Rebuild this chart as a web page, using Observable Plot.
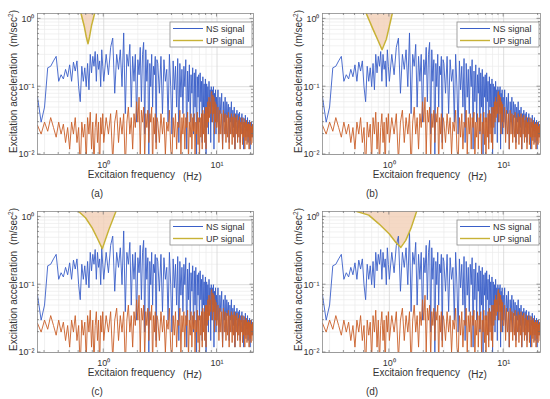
<!DOCTYPE html>
<html><head><meta charset="utf-8">
<script src="https://cdn.jsdelivr.net/npm/d3@7"></script>
<script src="https://cdn.jsdelivr.net/npm/@observablehq/plot@0.6"></script>
<style>
body{margin:0;background:#fff;}
#root{position:relative;width:550px;height:399px;overflow:hidden;background:#fff;}
#root svg{position:absolute;}
</style></head>
<body><div id="root"></div>
<script>
// ---- data ----
const freq = [
0.26,0.28,0.30,0.32,0.34,0.36,0.38,0.40,0.42,0.44,0.46,0.48,0.50,0.52,0.54,0.56,0.58,0.60,0.62,0.64,
0.66,0.68,0.70,0.72,0.74,0.76,0.78,0.80,0.82,0.84,0.86,0.88,0.90,0.92,0.94,0.96,0.98,
1.00,1.05,1.10,1.15,1.20,1.25,1.30,1.35,1.40,1.45,1.50,1.55,1.60,1.65,1.70,1.75,1.80,1.85,1.90,1.95,
2.00,2.05,2.10,2.15,2.20,2.25,2.30,2.35,2.40,2.45,2.50,2.55,2.60,2.65,2.70,2.75,2.80,2.85,2.90,2.95,
3.0,3.1,3.2,3.3,3.4,3.5,3.6,3.7,3.8,3.9,4.0,4.1,4.2,4.3,4.4,4.5,4.6,4.7,4.8,4.9,
5.0,5.1,5.2,5.3,5.4,5.5,5.6,5.7,5.8,5.9,6.0,6.1,6.2,6.3,6.4,6.5,6.6,6.7,6.8,6.9,
7.0,7.1,7.2,7.3,7.4,7.5,7.6,7.7,7.8,7.9,8.0,8.1,8.2,8.3,8.4,8.5,8.6,8.7,8.8,8.9,
9.0,9.1,9.2,9.3,9.4,9.5,9.6,9.7,9.8,9.9,
10.0,10.2,10.4,10.6,10.8,
11.0,11.2,11.4,11.6,11.8,12.0,12.2,12.4,12.6,12.8,13.0,13.2,13.4,13.6,13.8,14.0,14.2,14.4,14.6,14.8,
15.0,15.2,15.4,15.6,15.8,16.0,16.2,16.4,16.6,16.8,17.0,17.2,17.4,17.6,17.8,18.0,18.2,18.4,18.6,18.8,
19.0,19.2,19.4,19.6,19.8,20.0,20.2,20.4,20.6,20.8
];
const nsSignal = [
0.07,0.03,0.05,0.19,0.20,0.24,0.28,0.12,0.15,0.13,0.18,0.14,0.21,0.12,0.23,0.17,0.24,0.10,0.06,0.20,
0.12,0.19,0.10,0.22,0.09,0.30,0.16,0.28,0.20,0.33,0.12,0.30,0.18,0.24,0.10,0.35,0.20,
0.12,0.30,0.15,0.38,0.52,0.08,0.30,0.18,0.35,0.10,0.62,0.04,0.30,0.20,0.42,0.05,0.28,0.12,0.30,0.03,
0.25,0.15,0.38,0.06,0.30,0.45,0.02,0.35,0.12,0.25,0.008,0.22,0.10,0.30,0.05,0.20,0.15,0.28,0.015,0.25,
0.22,0.08,0.28,0.04,0.25,0.12,0.18,0.03,0.30,0.10,0.02,0.24,0.09,0.20,0.05,0.26,0.015,0.22,0.07,0.18,
0.04,0.20,0.10,0.25,0.012,0.17,0.06,0.21,0.03,0.15,0.08,0.19,0.02,0.16,0.05,0.18,0.01,0.14,0.07,0.15,
0.03,0.16,0.06,0.12,0.015,0.14,0.05,0.11,0.025,0.13,0.01,0.11,0.04,0.10,0.02,0.12,0.05,0.09,0.015,0.10,
0.03,0.09,0.05,0.10,0.012,0.08,0.04,0.09,0.02,0.07,
0.03,0.09,0.02,0.07,0.04,
0.08,0.012,0.06,0.03,0.07,0.02,0.06,0.035,0.055,0.015,0.05,0.03,0.06,0.02,0.045,0.025,0.05,0.012,0.04,0.03,
0.045,0.018,0.04,0.025,0.042,0.015,0.035,0.028,0.04,0.02,0.035,0.012,0.03,0.025,0.038,0.018,0.03,0.022,0.035,0.015,
0.03,0.024,0.032,0.012,0.028,0.02,0.03,0.018,0.027,0.022
];
const upSignal = [
0.027,0.02,0.03,0.022,0.035,0.025,0.018,0.03,0.02,0.028,0.015,0.025,0.012,0.03,0.02,0.035,0.015,0.025,0.006,0.03,
0.018,0.028,0.008,0.035,0.02,0.042,0.012,0.03,0.007,0.025,0.04,0.015,0.03,0.006,0.035,0.02,0.04,
0.015,0.035,0.02,0.04,0.008,0.03,0.045,0.015,0.035,0.02,0.04,0.006,0.03,0.05,0.02,0.035,0.012,0.04,0.025,0.06,
0.03,0.07,0.01,0.045,0.03,0.05,0.008,0.04,0.025,0.045,0.015,0.04,0.03,0.05,0.006,0.035,0.02,0.04,0.012,0.035,
0.03,0.015,0.04,0.02,0.035,0.01,0.03,0.022,0.045,0.012,0.008,0.035,0.018,0.04,0.012,0.03,0.025,0.045,0.01,0.035,
0.02,0.04,0.012,0.035,0.025,0.042,0.008,0.03,0.018,0.04,0.012,0.035,0.022,0.04,0.01,0.03,0.02,0.042,0.014,0.035,
0.008,0.035,0.018,0.04,0.012,0.045,0.02,0.04,0.015,0.05,0.012,0.05,0.025,0.06,0.03,0.07,0.035,0.06,0.04,0.08,
0.085,0.03,0.075,0.04,0.07,0.02,0.06,0.03,0.055,0.025,
0.025,0.05,0.015,0.045,0.02,
0.04,0.012,0.045,0.02,0.04,0.015,0.038,0.018,0.042,0.012,0.035,0.02,0.04,0.014,0.036,0.018,0.04,0.012,0.035,0.02,
0.038,0.015,0.032,0.018,0.036,0.012,0.03,0.02,0.035,0.014,0.03,0.018,0.034,0.012,0.03,0.016,0.032,0.014,0.028,0.018,
0.03,0.012,0.028,0.016,0.03,0.014,0.026,0.018,0.028,0.015
];
// V-shaped shaded bands (frequency, acceleration) for each panel
const bandAFreq = [0.63,0.67,0.70,0.726,0.75,0.78,0.83];
const bandAAcc  = [1.2,0.8,0.55,0.43,0.55,0.8,1.2];
const bandBFreq = [0.628,0.72,0.796,0.863,0.94,1.01,1.06];
const bandBAcc  = [1.2,0.70,0.48,0.35,0.50,0.84,1.2];
const bandCFreq = [0.60,0.69,0.79,0.88,0.97,1.11,1.28];
const bandCAcc  = [1.2,0.97,0.69,0.48,0.34,0.65,1.2];
const bandDFreq = [0.52,0.66,0.81,1.0,1.14,1.26,1.39,1.54,1.73];
const bandDAcc  = [1.2,1.06,0.79,0.56,0.42,0.355,0.45,0.67,1.2];

const seriesNames = ["NS signal", "UP signal"];
const panelLabels = ["(a)", "(b)", "(c)", "(d)"];
const xTicks = [1, 10];
const xMinor = [0.3,0.4,0.5,0.6,0.7,0.8,0.9,2,3,4,5,6,7,8,9,20];
const yTicks = [0.01, 0.1, 1];
const yMinor = [0.02,0.03,0.04,0.05,0.06,0.07,0.08,0.09,0.2,0.3,0.4,0.5,0.6,0.7,0.8,0.9];
const xDomain = [0.26, 21];
const yDomain = [0.01, 1.2];

// ---- layout / style ----
const FONT = "'Liberation Sans', Arial, Helvetica, sans-serif";
const NS_COLOR = "#3a5fc8";
const UP_COLOR = "#c95f28";
const BAND_LINE = "#c8b236";
const BAND_FILL = "#f3cfb6";
const layout = [
  {left: 0,   top: 0,   width: 275, mr: 22, cap: 97, bf: bandAFreq, bv: bandAAcc},
  {left: 285, top: 0,   width: 265, mr: 10, cap: 87, bf: bandBFreq, bv: bandBAcc},
  {left: 0,   top: 198, width: 275, mr: 22, cap: 97, bf: bandCFreq, bv: bandCAcc},
  {left: 285, top: 198, width: 265, mr: 10, cap: 87, bf: bandDFreq, bv: bandDAcc}
];
const H = 200, ML = 37, MT = 13, MB = 46;

const data = freq.map((f, i) => ({f, ns: nsSignal[i], up: upSignal[i]}));
const xFmt = d => d === 1 ? "10\u2070" : "10\u00b9";
const yFmt = d => d === 1 ? "10\u2070" : d === 0.1 ? "10\u207b\u00b9" : "10\u207b\u00b2";

const root = document.getElementById("root");
layout.forEach((p, k) => {
  const band = p.bf.map((f, i) => ({f, v: p.bv[i]}));
  const plot = Plot.plot({
    width: p.width, height: H,
    marginLeft: ML, marginRight: p.mr, marginTop: MT, marginBottom: MB,
    style: {fontFamily: FONT, fontSize: "9px", color: "#333", background: "transparent", overflow: "visible"},
    x: {type: "log", domain: xDomain, ticks: xTicks, tickFormat: xFmt, label: null, tickSize: 0, tickPadding: 7},
    y: {type: "log", domain: yDomain, ticks: yTicks, tickFormat: yFmt, label: null, tickSize: 0, tickPadding: 3},
    marks: [
      Plot.ruleX(xMinor, {stroke: "#ebebeb", strokeWidth: 0.7}),
      Plot.ruleY(yMinor, {stroke: "#ebebeb", strokeWidth: 0.7}),
      Plot.ruleX(xTicks, {stroke: "#d6d6d6", strokeWidth: 0.8}),
      Plot.ruleY(yTicks, {stroke: "#d6d6d6", strokeWidth: 0.8}),
      Plot.areaY(band, {x: "f", y1: "v", y2: yDomain[1], fill: BAND_FILL, fillOpacity: 0.8, clip: true}),
      Plot.line(data, {x: "f", y: "ns", stroke: NS_COLOR, strokeWidth: 0.9, clip: true}),
      Plot.line(data, {x: "f", y: "up", stroke: UP_COLOR, strokeWidth: 0.9, clip: true}),
      Plot.line(band, {x: "f", y: "v", stroke: BAND_LINE, strokeWidth: 1.5, clip: true}),
      Plot.frame({stroke: "#8a8a8a", strokeWidth: 0.8})
    ]
  });
  plot.style.left = p.left + "px";
  plot.style.top = p.top + "px";
  root.appendChild(plot);

  const sx = plot.scale("x"), sy = plot.scale("y");
  const svg = d3.select(plot);
  const x0 = ML, x1 = p.width - p.mr, y0 = MT, y1 = H - MB;
  // inward ticks on all four sides
  const tg = svg.append("g").attr("stroke", "#6f6f6f").attr("stroke-width", 0.7);
  const addX = (v, len) => {
    const x = sx.apply(v);
    tg.append("line").attr("x1", x).attr("x2", x).attr("y1", y1).attr("y2", y1 - len);
    tg.append("line").attr("x1", x).attr("x2", x).attr("y1", y0).attr("y2", y0 + len);
  };
  const addY = (v, len) => {
    const y = sy.apply(v);
    tg.append("line").attr("y1", y).attr("y2", y).attr("x1", x0).attr("x2", x0 + len);
    tg.append("line").attr("y1", y).attr("y2", y).attr("x1", x1).attr("x2", x1 - len);
  };
  xTicks.forEach(v => addX(v, 3.5)); xMinor.forEach(v => addX(v, 2));
  yTicks.forEach(v => addY(v, 3.5)); yMinor.forEach(v => addY(v, 2));

  // legend
  const lw = 82, lh = 25, lx = x1 - lw - 1, ly = y0 + 9;
  const lg = svg.append("g").attr("font-family", FONT).attr("font-size", 9).attr("fill", "#333")
    .attr("text-anchor", "start");
  lg.append("rect").attr("x", lx).attr("y", ly).attr("width", lw).attr("height", lh)
    .attr("fill", "#fff").attr("stroke", "#8a8a8a").attr("stroke-width", 0.8);
  [NS_COLOR, BAND_LINE].forEach((c, i) => {
    const yy = ly + 6.5 + i * 12;
    lg.append("line").attr("x1", lx + 3).attr("x2", lx + 33).attr("y1", yy).attr("y2", yy)
      .attr("stroke", c).attr("stroke-width", i ? 1.4 : 1);
    lg.append("text").attr("x", lx + 36).attr("y", yy + 3).text(seriesNames[i]);
  });

  // axis titles
  const at = svg.append("g").attr("font-family", FONT).attr("font-size", 10).attr("fill", "#333")
    .attr("text-anchor", "start");
  at.append("text").attr("x", x0 + 138).attr("y", y1 + 24).attr("text-anchor", "end").text("Excitaion frequency");
  at.append("text").attr("x", x0 + 146).attr("y", y1 + 25.5).text("(Hz)");
  const yl = at.append("text").attr("transform", `translate(${ML - 20},${y1 - 1}) rotate(-90)`);
  yl.append("tspan").text("Excitation acceleration");
  yl.append("tspan").attr("dx", 6).text("(m/sec");
  yl.append("tspan").attr("font-size", 6.5).attr("dy", -4).text("2");
  yl.append("tspan").attr("dy", 4).text(")");
  // panel caption
  at.append("text").attr("x", p.cap).attr("y", y1 + 43).attr("text-anchor", "middle").text(panelLabels[k]);
});
</script>
</body></html>
